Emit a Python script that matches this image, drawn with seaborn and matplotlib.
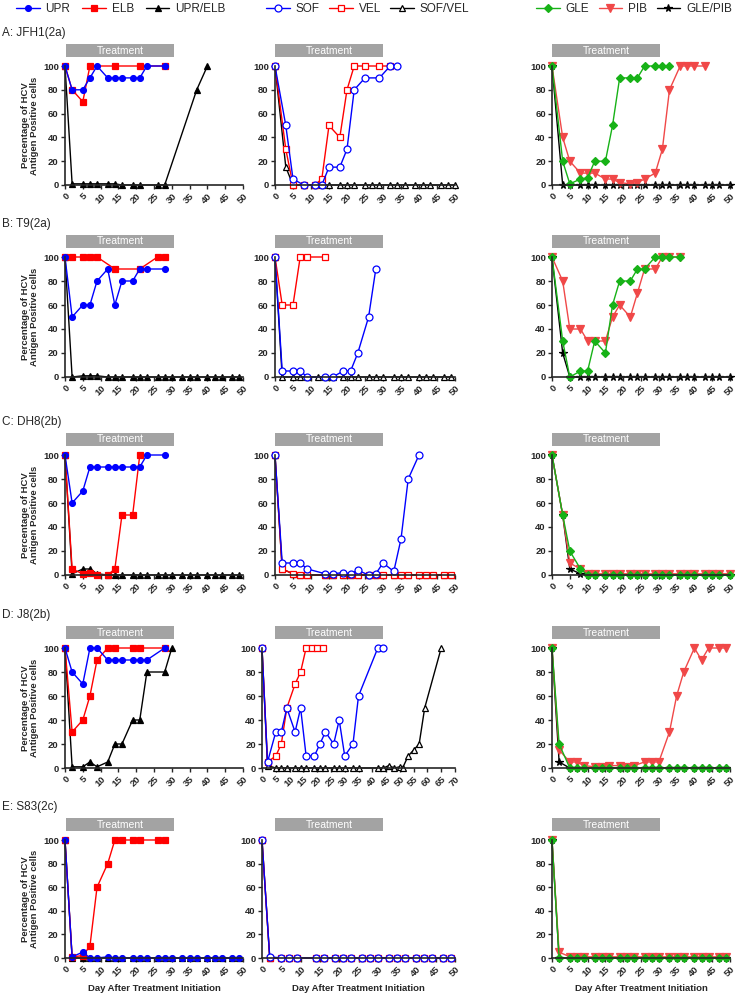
import matplotlib.pyplot as plt
import seaborn as sns
from matplotlib.patches import Rectangle

# ---- data: day after treatment initiation / % HCV antigen positive cells ----
# A: JFH1(2a)
A_UPR_day = [0, 2, 5, 7, 9, 12, 14, 16, 19, 21, 23, 28]
A_UPR_pct = [100, 80, 80, 90, 100, 90, 90, 90, 90, 90, 100, 100]
A_ELB_day = [0, 2, 5, 7, 14, 21, 28]
A_ELB_pct = [100, 80, 70, 100, 100, 100, 100]
A_UE_day = [0, 2, 5, 7, 9, 12, 14, 16, 19, 21, 26, 28, 37, 40]
A_UE_pct = [100, 1, 1, 1, 1, 1, 1, 0, 0, 0, 0, 0, 80, 100]
A_SOF_day = [0, 3, 5, 8, 11, 13, 15, 18, 20, 22, 25, 29, 32, 34]
A_SOF_pct = [100, 50, 5, 0, 0, 0, 15, 15, 30, 80, 90, 90, 100, 100]
A_VEL_day = [0, 3, 5, 8, 11, 13, 15, 18, 20, 22, 25, 29, 32]
A_VEL_pct = [100, 30, 0, 0, 0, 5, 50, 40, 80, 100, 100, 100, 100]
A_SV_day = [0, 3, 5, 8, 11, 13, 15, 18, 20, 22, 25, 27, 29, 32, 34, 36, 39, 41, 43, 46, 48, 50]
A_SV_pct = [100, 15, 0, 0, 0, 0, 0, 0, 0, 0, 0, 0, 0, 0, 0, 0, 0, 0, 0, 0, 0, 0]
A_GLE_day = [0, 3, 5, 8, 10, 12, 15, 17, 19, 22, 24, 26, 29, 31, 33]
A_GLE_pct = [100, 20, 1, 5, 6, 20, 20, 50, 90, 90, 90, 100, 100, 100, 100]
A_PIB_day = [0, 3, 5, 8, 10, 12, 15, 17, 19, 22, 24, 26, 29, 31, 33, 36, 38, 40, 43]
A_PIB_pct = [100, 40, 20, 10, 10, 10, 5, 5, 2, 1, 2, 5, 10, 30, 80, 100, 100, 100, 100]
A_GP_day = [0, 3, 5, 8, 10, 12, 15, 17, 19, 22, 24, 26, 29, 31, 33, 36, 38, 40, 43, 45, 47, 50]
A_GP_pct = [100, 0, 0, 0, 0, 0, 0, 0, 0, 0, 0, 0, 0, 0, 0, 0, 0, 0, 0, 0, 0, 0]

# B: T9(2a)
B_UPR_day = [0, 2, 5, 7, 9, 12, 14, 16, 19, 21, 23, 28]
B_UPR_pct = [100, 50, 60, 60, 80, 90, 60, 80, 80, 90, 90, 90]
B_ELB_day = [0, 2, 5, 7, 9, 14, 21, 26, 28]
B_ELB_pct = [100, 100, 100, 100, 100, 90, 90, 100, 100]
B_UE_day = [0, 2, 5, 7, 9, 12, 14, 16, 19, 21, 23, 26, 28, 30, 33, 35, 37, 40, 42, 44, 47, 49]
B_UE_pct = [100, 0, 1, 1, 1, 0, 0, 0, 0, 0, 0, 0, 0, 0, 0, 0, 0, 0, 0, 0, 0, 0]
B_SOF_day = [0, 2, 5, 7, 9, 14, 16, 19, 21, 23, 26, 28]
B_SOF_pct = [100, 5, 5, 5, 0, 0, 0, 5, 5, 20, 50, 90]
B_VEL_day = [0, 2, 5, 7, 9, 14]
B_VEL_pct = [100, 60, 60, 100, 100, 100]
B_SV_day = [0, 2, 5, 7, 9, 12, 14, 16, 19, 21, 23, 26, 28, 30, 33, 35, 37, 40, 42, 44, 47, 49]
B_SV_pct = [100, 0, 0, 0, 0, 0, 0, 0, 0, 0, 0, 0, 0, 0, 0, 0, 0, 0, 0, 0, 0, 0]
B_GLE_day = [0, 3, 5, 8, 10, 12, 15, 17, 19, 22, 24, 26, 29, 31, 33, 36]
B_GLE_pct = [100, 30, 0, 5, 5, 30, 20, 60, 80, 80, 90, 90, 100, 100, 100, 100]
B_PIB_day = [0, 3, 5, 8, 10, 12, 15, 17, 19, 22, 24, 26, 29, 31, 33, 36]
B_PIB_pct = [100, 80, 40, 40, 30, 30, 30, 50, 60, 50, 70, 90, 90, 100, 100, 100]
B_GP_day = [0, 3, 5, 8, 10, 12, 15, 17, 19, 22, 24, 26, 29, 31, 33, 36, 38, 40, 43, 45, 47, 50]
B_GP_pct = [100, 20, 0, 0, 0, 0, 0, 0, 0, 0, 0, 0, 0, 0, 0, 0, 0, 0, 0, 0, 0, 0]

# C: DH8(2b)
C_UPR_day = [0, 2, 5, 7, 9, 12, 14, 16, 19, 21, 23, 28]
C_UPR_pct = [100, 60, 70, 90, 90, 90, 90, 90, 90, 90, 100, 100]
C_ELB_day = [0, 2, 5, 7, 9, 12, 14, 16, 19, 21]
C_ELB_pct = [100, 5, 1, 2, 0, 0, 5, 50, 50, 100]
C_UE_day = [0, 2, 5, 7, 9, 12, 14, 16, 19, 21, 23, 26, 28, 30, 33, 35, 37, 40, 42, 44, 47, 49]
C_UE_pct = [100, 1, 5, 5, 1, 0, 0, 0, 0, 0, 0, 0, 0, 0, 0, 0, 0, 0, 0, 0, 0, 0]
C_SOF_day = [0, 2, 5, 7, 9, 14, 16, 19, 21, 23, 26, 28, 30, 33, 35, 37, 40]
C_SOF_pct = [100, 10, 10, 10, 5, 1, 1, 2, 1, 4, 0, 1, 10, 3, 30, 80, 100]
C_VEL_day = [0, 2, 5, 7, 9, 14, 16, 19, 21, 23, 26, 28, 30, 33, 35, 37, 40, 42, 44, 47, 49]
C_VEL_pct = [100, 5, 1, 0, 0, 0, 0, 0, 0, 0, 0, 0, 0, 0, 0, 0, 0, 0, 0, 0, 0]
C_SV_day = [0, 2, 5, 7, 9, 14, 16, 19, 21, 23, 26, 28, 30, 33, 35, 37, 40, 42, 44, 47, 49]
C_SV_pct = [100, 5, 1, 0, 0, 0, 0, 0, 0, 0, 0, 0, 0, 0, 0, 0, 0, 0, 0, 0, 0]
C_GLE_day = [0, 3, 5, 8, 10, 12, 15, 17, 19, 22, 24, 26, 29, 31, 33, 36, 38, 40, 43, 45, 47, 50]
C_GLE_pct = [100, 50, 20, 5, 0, 0, 0, 0, 0, 0, 0, 0, 0, 0, 0, 0, 0, 0, 0, 0, 0, 0]
C_PIB_day = [0, 3, 5, 8, 10, 12, 15, 17, 19, 22, 24, 26, 29, 31, 33, 36, 38, 40, 43, 45, 47, 50]
C_PIB_pct = [100, 50, 10, 5, 1, 1, 1, 1, 1, 1, 1, 1, 1, 1, 1, 1, 1, 1, 1, 1, 1, 1]
C_GP_day = [0, 3, 5, 8, 10, 12, 15, 17, 19, 22, 24, 26, 29, 31, 33, 36, 38, 40, 43, 45, 47, 50]
C_GP_pct = [100, 50, 5, 1, 0, 0, 0, 0, 0, 0, 0, 0, 0, 0, 0, 0, 0, 0, 0, 0, 0, 0]

# D: J8(2b)
D_UPR_day = [0, 2, 5, 7, 9, 12, 14, 16, 19, 21, 23, 28]
D_UPR_pct = [100, 80, 70, 100, 100, 90, 90, 90, 90, 90, 90, 100]
D_ELB_day = [0, 2, 5, 7, 9, 12, 14, 19, 21, 28]
D_ELB_pct = [100, 30, 40, 60, 90, 100, 100, 100, 100, 100]
D_UE_day = [0, 2, 5, 7, 9, 12, 14, 16, 19, 21, 23, 28, 30]
D_UE_pct = [100, 1, 1, 5, 1, 5, 20, 20, 40, 40, 80, 80, 100]
D_SOF_day = [0, 2, 5, 7, 9, 12, 14, 16, 19, 21, 23, 26, 28, 30, 33, 35, 42, 44]
D_SOF_pct = [100, 5, 30, 30, 50, 30, 50, 10, 10, 20, 30, 20, 40, 10, 20, 60, 100, 100]
D_VEL_day = [0, 2, 5, 7, 9, 12, 14, 16, 18, 20, 22]
D_VEL_pct = [100, 5, 10, 20, 50, 70, 80, 100, 100, 100, 100]
D_SV_day = [0, 2, 5, 7, 9, 12, 14, 16, 19, 21, 23, 26, 28, 30, 33, 35, 42, 44, 46, 48, 50, 51, 53, 55, 57, 59, 65]
D_SV_pct = [100, 2, 0, 0, 0, 0, 0, 0, 0, 0, 0, 0, 0, 0, 0, 0, 0, 0, 2, 0, 1, 0, 10, 15, 20, 50, 100]
D_GLE_day = [0, 2, 5, 7, 9, 12, 14, 16, 19, 21, 23, 26, 28, 30, 33, 35, 37, 40, 42, 44, 47, 49]
D_GLE_pct = [100, 20, 0, 0, 0, 0, 0, 0, 0, 0, 0, 0, 0, 0, 0, 0, 0, 0, 0, 0, 0, 0]
D_PIB_day = [0, 2, 5, 7, 9, 12, 14, 16, 19, 21, 23, 26, 28, 30, 33, 35, 37, 40, 42, 44, 47, 49]
D_PIB_pct = [100, 15, 5, 5, 2, 1, 1, 2, 2, 1, 2, 5, 5, 5, 30, 60, 80, 100, 90, 100, 100, 100]
D_GP_day = [0, 2, 5, 7, 9, 12, 14, 16, 19, 21, 23, 26, 28, 30, 33, 35, 37, 40, 42, 44, 47, 49]
D_GP_pct = [100, 5, 0, 0, 0, 0, 0, 0, 0, 0, 0, 0, 0, 0, 0, 0, 0, 0, 0, 0, 0, 0]

# E: S83(2c)
E_UPR_day = [0, 2, 5, 7, 9, 12, 14, 16, 19, 21, 23, 26, 28, 30, 33, 35, 37, 40, 42, 44, 47, 49]
E_UPR_pct = [100, 1, 5, 0, 0, 1, 0, 0, 0, 0, 0, 0, 0, 0, 0, 0, 0, 0, 0, 0, 0, 0]
E_ELB_day = [0, 2, 5, 7, 9, 12, 14, 16, 19, 21, 26, 28]
E_ELB_pct = [100, 1, 2, 10, 60, 80, 100, 100, 100, 100, 100, 100]
E_UE_day = [0, 2, 5, 7, 9, 12, 14, 16, 19, 21, 23, 26, 28, 30, 33, 35, 37, 40, 42, 44, 47, 49]
E_UE_pct = [100, 0, 0, 0, 0, 0, 0, 0, 0, 0, 0, 0, 0, 0, 0, 0, 0, 0, 0, 0, 0, 0]
E_SOF_day = [0, 2, 5, 7, 9, 14, 16, 19, 21, 23, 26, 28, 30, 33, 35, 37, 40, 42, 44, 47, 49]
E_SOF_pct = [100, 1, 0, 0, 0, 0, 0, 0, 0, 0, 0, 0, 0, 0, 0, 0, 0, 0, 0, 0, 0]
E_VEL_day = [0, 2, 5, 7, 9, 14, 16, 19, 21, 23, 26, 28, 30, 33, 35, 37, 40, 42, 44, 47, 49]
E_VEL_pct = [100, 0, 0, 0, 0, 0, 0, 0, 0, 0, 0, 0, 0, 0, 0, 0, 0, 0, 0, 0, 0]
E_SV_day = [0, 2, 5, 7, 9, 14, 16, 19, 21, 23, 26, 28, 30, 33, 35, 37, 40, 42, 44, 47, 49]
E_SV_pct = [100, 0, 0, 0, 0, 0, 0, 0, 0, 0, 0, 0, 0, 0, 0, 0, 0, 0, 0, 0, 0]
E_GLE_day = [0, 2, 5, 7, 9, 12, 14, 16, 19, 21, 23, 26, 28, 30, 33, 35, 37, 40, 42, 44, 47, 49]
E_GLE_pct = [100, 0, 0, 0, 0, 0, 0, 0, 0, 0, 0, 0, 0, 0, 0, 0, 0, 0, 0, 0, 0, 0]
E_PIB_day = [0, 2, 5, 7, 9, 12, 14, 16, 19, 21, 23, 26, 28, 30, 33, 35, 37, 40, 42, 44, 47, 49]
E_PIB_pct = [100, 5, 1, 1, 1, 1, 1, 1, 1, 1, 1, 1, 1, 1, 1, 1, 1, 1, 1, 1, 1, 1]
E_GP_day = [0, 2, 5, 7, 9, 12, 14, 16, 19, 21, 23, 26, 28, 30, 33, 35, 37, 40, 42, 44, 47, 49]
E_GP_pct = [100, 0, 0, 0, 0, 0, 0, 0, 0, 0, 0, 0, 0, 0, 0, 0, 0, 0, 0, 0, 0, 0]

row_titles = ["A: JFH1(2a)", "B: T9(2a)", "C: DH8(2b)", "D: J8(2b)", "E: S83(2c)"]
drug_groups = [["UPR/ELB", "ELB", "UPR"], ["SOF/VEL", "VEL", "SOF"], ["GLE/PIB", "PIB", "GLE"]]
legend_order = [["UPR", "ELB", "UPR/ELB"], ["SOF", "VEL", "SOF/VEL"], ["GLE", "PIB", "GLE/PIB"]]

series = {
    "A": {"UPR": (A_UPR_day, A_UPR_pct), "ELB": (A_ELB_day, A_ELB_pct), "UPR/ELB": (A_UE_day, A_UE_pct),
          "SOF": (A_SOF_day, A_SOF_pct), "VEL": (A_VEL_day, A_VEL_pct), "SOF/VEL": (A_SV_day, A_SV_pct),
          "GLE": (A_GLE_day, A_GLE_pct), "PIB": (A_PIB_day, A_PIB_pct), "GLE/PIB": (A_GP_day, A_GP_pct)},
    "B": {"UPR": (B_UPR_day, B_UPR_pct), "ELB": (B_ELB_day, B_ELB_pct), "UPR/ELB": (B_UE_day, B_UE_pct),
          "SOF": (B_SOF_day, B_SOF_pct), "VEL": (B_VEL_day, B_VEL_pct), "SOF/VEL": (B_SV_day, B_SV_pct),
          "GLE": (B_GLE_day, B_GLE_pct), "PIB": (B_PIB_day, B_PIB_pct), "GLE/PIB": (B_GP_day, B_GP_pct)},
    "C": {"UPR": (C_UPR_day, C_UPR_pct), "ELB": (C_ELB_day, C_ELB_pct), "UPR/ELB": (C_UE_day, C_UE_pct),
          "SOF": (C_SOF_day, C_SOF_pct), "VEL": (C_VEL_day, C_VEL_pct), "SOF/VEL": (C_SV_day, C_SV_pct),
          "GLE": (C_GLE_day, C_GLE_pct), "PIB": (C_PIB_day, C_PIB_pct), "GLE/PIB": (C_GP_day, C_GP_pct)},
    "D": {"UPR": (D_UPR_day, D_UPR_pct), "ELB": (D_ELB_day, D_ELB_pct), "UPR/ELB": (D_UE_day, D_UE_pct),
          "SOF": (D_SOF_day, D_SOF_pct), "VEL": (D_VEL_day, D_VEL_pct), "SOF/VEL": (D_SV_day, D_SV_pct),
          "GLE": (D_GLE_day, D_GLE_pct), "PIB": (D_PIB_day, D_PIB_pct), "GLE/PIB": (D_GP_day, D_GP_pct)},
    "E": {"UPR": (E_UPR_day, E_UPR_pct), "ELB": (E_ELB_day, E_ELB_pct), "UPR/ELB": (E_UE_day, E_UE_pct),
          "SOF": (E_SOF_day, E_SOF_pct), "VEL": (E_VEL_day, E_VEL_pct), "SOF/VEL": (E_SV_day, E_SV_pct),
          "GLE": (E_GLE_day, E_GLE_pct), "PIB": (E_PIB_day, E_PIB_pct), "GLE/PIB": (E_GP_day, E_GP_pct)},
}

# marker style per drug: (color, marker, filled, size)
styles = {
    "UPR": ("#0000ff", "o", True, 4.2),
    "ELB": ("#ff0000", "s", True, 4.0),
    "UPR/ELB": ("black", "^", True, 4.0),
    "SOF": ("#0000ff", "o", False, 5.0),
    "VEL": ("#ff0000", "s", False, 4.6),
    "SOF/VEL": ("black", "^", False, 5.0),
    "GLE": ("#17b217", "D", True, 4.2),
    "PIB": ("#f04848", "v", True, 5.5),
    "GLE/PIB": ("black", "*", True, 5.5),
}

sns.set_style("ticks")
plt.rcParams['font.family'] = ['Liberation Sans', 'DejaVu Sans']

W, H = 737, 999
fig = plt.figure(figsize=(W / 100, H / 100), dpi=100)

# layout in pixels: (x of day 0, x of right end) per column, (y of 100, y of 0) per row
col_x = [(65, 243), (275, 455), (552, 730)]
col_x_wide = (262, 455)
row_y = [(66, 185), (257, 377), (455, 575), (648, 768), (840, 958)]
bar_x = [(66, 174), (275, 383), (552, 660)]

for r, key in enumerate("ABCDE"):
    y100, y0 = row_y[r]
    fig.text(2 / W, 1 - (y100 - 33) / H, row_titles[r], fontsize=8.5, va="center", ha="left")
    for c in range(3):
        x0, x1 = col_x[c]
        xmax = 50
        if c == 1 and key in "DE":
            x0, x1 = col_x_wide
            if key == "D":
                xmax = 70
        ax = fig.add_axes([x0 / W, 1 - y0 / H, (x1 - x0) / W, (y0 - y100) / H])
        for drug in drug_groups[c]:
            col, mk, filled, ms = styles[drug]
            d, p = series[key][drug]
            sns.lineplot(x=d, y=p, ax=ax, color=col, marker=mk, markersize=ms,
                         markerfacecolor=col if filled else "white", markeredgecolor=col,
                         markeredgewidth=0.9, linewidth=1.0, clip_on=False, label=drug,
                         legend=False)
        ax.set_xlim(0, xmax)
        ax.set_ylim(0, 100)
        ax.set_xticks(range(0, xmax + 1, 5))
        ax.set_yticks(range(0, 101, 20))
        sns.despine(ax=ax)
        for s in ["left", "bottom"]:
            ax.spines[s].set_linewidth(1.2)
        ax.tick_params(length=3, width=1.0, pad=1.5, labelsize=6.8)
        for lab in ax.get_xticklabels():
            lab.set_rotation(45)
            lab.set_ha("right")
            lab.set_rotation_mode("anchor")
            lab.set_fontweight("bold")
        for lab in ax.get_yticklabels():
            lab.set_fontweight("bold")
        if c == 0:
            ax.set_ylabel("Percentage of HCV\nAntigen Positive cells", fontsize=6.8,
                          fontweight="bold", labelpad=3, linespacing=1.0)
        else:
            ax.set_ylabel("")
        if key == "E":
            ax.set_xlabel("Day After Treatment Initiation", fontsize=6.8, fontweight="bold", labelpad=4)
        else:
            ax.set_xlabel("")

        # treatment bar
        bx0, bx1 = bar_x[c]
        top = y100 - 22
        fig.add_artist(Rectangle((bx0 / W, 1 - (top + 13) / H), (bx1 - bx0) / W, 13 / H,
                                 transform=fig.transFigure, facecolor="#a3a3a3", edgecolor="none"))
        fig.text((bx0 + bx1) / 2 / W, 1 - (top + 6.5) / H, "Treatment", color="white",
                 fontsize=7.5, ha="center", va="center")

        if key == "A":
            handles, labels = ax.get_legend_handles_labels()
            hmap = dict(zip(labels, handles))
            order = legend_order[c]
            lx = [16, 266, 536][c]
            fig.legend([hmap[o] for o in order], order, loc="center left",
                       bbox_to_anchor=(lx / W, 1 - 9 / H), ncol=3, frameon=False,
                       fontsize=8.5, handlelength=2.0, handletextpad=0.5,
                       columnspacing=1.0 if c == 0 else 0.8, borderaxespad=0, borderpad=0)

fig.savefig("out.png", dpi=100)
